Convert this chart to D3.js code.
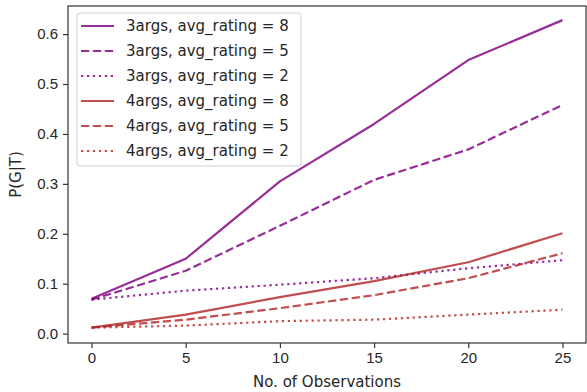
<!DOCTYPE html>
<html>
<head>
<meta charset="utf-8">
<script src="https://cdn.jsdelivr.net/npm/d3@7"></script>
<style>
  body { margin: 0; background: #fff; }
  svg { font-family: "DejaVu Sans", sans-serif; }
  .tick text { fill: #262626; font-size: 15px; }
</style>
</head>
<body>
<svg id="chart" width="587" height="392"></svg>
<script>
// observations on the x axis
const obs = [0, 5, 10, 15, 20, 25];

// P(G|T) per series
const args3_r8 = [0.070, 0.150, 0.305, 0.420, 0.548, 0.628];
const args3_r5 = [0.068, 0.126, 0.216, 0.308, 0.369, 0.458];
const args3_r2 = [0.068, 0.086, 0.098, 0.111, 0.131, 0.147];
const args4_r8 = [0.012, 0.038, 0.073, 0.105, 0.143, 0.201];
const args4_r5 = [0.012, 0.028, 0.051, 0.077, 0.111, 0.161];
const args4_r2 = [0.012, 0.016, 0.025, 0.028, 0.038, 0.048];

const labels = ["3args, avg_rating = 8", "3args, avg_rating = 5", "3args, avg_rating = 2",
                "4args, avg_rating = 8", "4args, avg_rating = 5", "4args, avg_rating = 2"];
const xTicks = [0, 5, 10, 15, 20, 25];
const yTicks = [0.0, 0.1, 0.2, 0.3, 0.4, 0.5, 0.6];

const purple = "rgba(128,0,128,0.82)";
const brown = "rgba(178,34,34,0.8)";
const dashes = { solid: null, dashed: "8.3,3.6", dotted: "2.25,3.7" };

const series = [
  { name: labels[0], values: args3_r8, color: purple, dash: dashes.solid },
  { name: labels[1], values: args3_r5, color: purple, dash: dashes.dashed },
  { name: labels[2], values: args3_r2, color: purple, dash: dashes.dotted },
  { name: labels[3], values: args4_r8, color: brown, dash: dashes.solid },
  { name: labels[4], values: args4_r5, color: brown, dash: dashes.dashed },
  { name: labels[5], values: args4_r2, color: brown, dash: dashes.dotted }
];

const margin = { top: 6, right: 1, bottom: 49, left: 68 };
const width = 587 - margin.left - margin.right;
const height = 392 - margin.top - margin.bottom;

const x = d3.scaleLinear().domain([-1.25, 26.25]).range([0, width]);
const y = d3.scaleLinear().domain([-0.0188, 0.6563]).range([height, 0]);

const svg = d3.select("#chart")
  .append("g")
  .attr("transform", `translate(${margin.left},${margin.top})`);

const line = d3.line()
  .x((d, i) => x(obs[i]))
  .y(d => y(d));

series.forEach(s => {
  svg.append("path")
    .datum(s.values)
    .attr("d", line)
    .attr("fill", "none")
    .attr("stroke", s.color)
    .attr("stroke-width", 2.2)
    .attr("stroke-dasharray", s.dash)
    .attr("stroke-linejoin", "round");
});

// axes
const xAxis = d3.axisBottom(x).tickValues(xTicks).tickSize(5).tickPadding(4).tickFormat(d3.format("d"));
const yAxis = d3.axisLeft(y).tickValues(yTicks).tickSize(5).tickPadding(5).tickFormat(d3.format(".1f"));

svg.append("g").attr("transform", `translate(0,${height})`).call(xAxis)
  .call(g => g.select(".domain").remove())
  .call(g => g.selectAll(".tick line").attr("stroke", "#333").attr("stroke-width", 1.2));
svg.append("g").call(yAxis)
  .call(g => g.select(".domain").remove())
  .call(g => g.selectAll(".tick line").attr("stroke", "#333").attr("stroke-width", 1.2));

svg.append("rect")
  .attr("width", width)
  .attr("height", height)
  .attr("fill", "none")
  .attr("stroke", "#333")
  .attr("stroke-width", 1.2);

// axis labels
svg.append("text")
  .attr("x", width / 2)
  .attr("y", height + 44)
  .attr("text-anchor", "middle")
  .attr("font-size", "15px")
  .attr("fill", "#262626")
  .text("No. of Observations");

svg.append("text")
  .attr("transform", `translate(${-47},${height / 2}) rotate(-90)`)
  .attr("text-anchor", "middle")
  .attr("font-size", "15px")
  .attr("fill", "#262626")
  .text("P(G|T)");

// legend
const legend = svg.append("g").attr("transform", "translate(9,7)");
legend.append("rect")
  .attr("width", 224)
  .attr("height", 153)
  .attr("rx", 3)
  .attr("fill", "rgba(255,255,255,0.8)")
  .attr("stroke", "#d0d0d0");

series.forEach((s, i) => {
  const row = legend.append("g").attr("transform", `translate(0,${13 + i * 25})`);
  row.append("line")
    .attr("x1", 4).attr("x2", 37)
    .attr("stroke", s.color)
    .attr("stroke-width", 2.2)
    .attr("stroke-dasharray", s.dash);
  row.append("text")
    .attr("x", 49)
    .attr("y", 5)
    .attr("font-size", "15px")
    .attr("fill", "#262626")
    .text(s.name);
});
</script>
</body>
</html>
